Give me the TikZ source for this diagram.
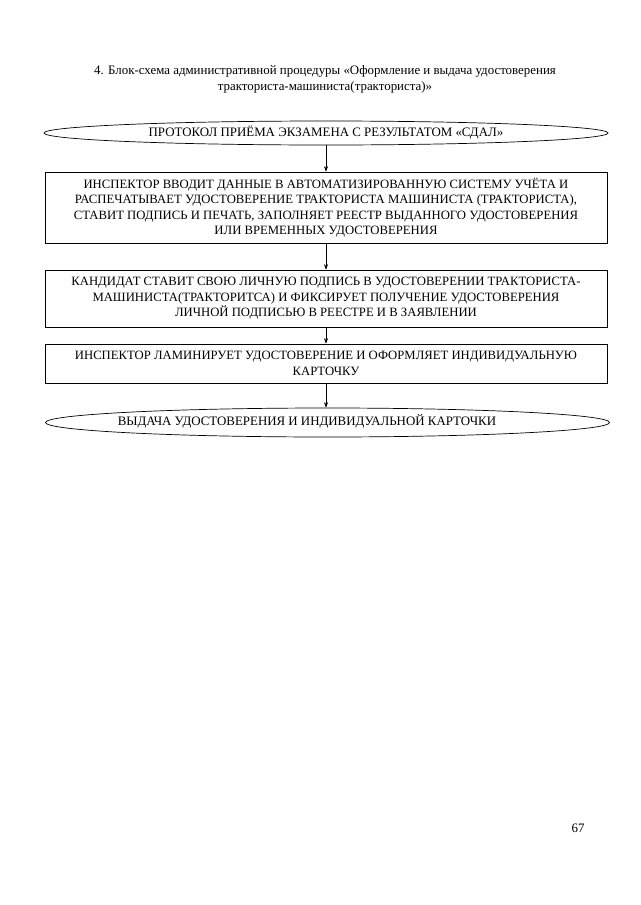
\documentclass[tikz,border=0pt]{standalone}
\usepackage{fontspec}
\setmainfont{Liberation Serif}
\usetikzlibrary{shapes.geometric,arrows.meta}
\newcommand\fsz{\fontsize{12.9}{15.5}\selectfont}
\newcommand\bsz{\fontsize{12.7}{15.5}\selectfont}
\begin{document}
\begin{tikzpicture}[x=1pt,y=1pt,
  box/.style={draw,line width=0.7pt,inner sep=0pt,minimum width=562pt,align=center,font=\bsz},
  oval/.style={draw,ellipse,line width=0.7pt,inner sep=0pt,minimum width=564pt,font=\fsz},
  arr/.style={-{Stealth[length=5.5pt,width=4pt]},line width=0.6pt}]
\fill[white] (0,0) rectangle (640,-905);
\useasboundingbox (0,0) rectangle (640,-905);
\node[font=\fsz,align=center] (title) at (325,-79.5) {4. Блок-схема административной процедуры «Оформление и выдача удостоверения\\тракториста-машиниста(тракториста)»};
\node[oval,minimum height=24pt] (e1) at (326,-133) {ПРОТОКОЛ ПРИЁМА ЭКЗАМЕНА С РЕЗУЛЬТАТОМ «СДАЛ»};
\node[box,minimum height=71pt] (r1) at (326,-207.5) {ИНСПЕКТОР ВВОДИТ ДАННЫЕ В АВТОМАТИЗИРОВАННУЮ СИСТЕМУ УЧЁТА И\\РАСПЕЧАТЫВАЕТ УДОСТОВЕРЕНИЕ ТРАКТОРИСТА МАШИНИСТА (ТРАКТОРИСТА),\\СТАВИТ ПОДПИСЬ И ПЕЧАТЬ, ЗАПОЛНЯЕТ РЕЕСТР ВЫДАННОГО УДОСТОВЕРЕНИЯ\\ИЛИ ВРЕМЕННЫХ УДОСТОВЕРЕНИЯ};
\node[box,minimum height=57pt] (r2) at (326,-298.5) {КАНДИДАТ СТАВИТ СВОЮ ЛИЧНУЮ ПОДПИСЬ В УДОСТОВЕРЕНИИ ТРАКТОРИСТА-\\МАШИНИСТА(ТРАКТОРИТСА) И ФИКСИРУЕТ ПОЛУЧЕНИЕ УДОСТОВЕРЕНИЯ\\ЛИЧНОЙ ПОДПИСЬЮ В РЕЕСТРЕ И В ЗАЯВЛЕНИИ};
\node[box,minimum height=39pt] (r3) at (326,-363.5) {ИНСПЕКТОР ЛАМИНИРУЕТ УДОСТОВЕРЕНИЕ И ОФОРМЛЯЕТ ИНДИВИДУАЛЬНУЮ\\КАРТОЧКУ};
\node[oval,minimum height=29pt] (e2) at (327.5,-422.5) {};
\node[font=\fsz] (e2t) at (307,-421.5) {ВЫДАЧА УДОСТОВЕРЕНИЯ И ИНДИВИДУАЛЬНОЙ КАРТОЧКИ};
\node[font=\fsz] (pg) at (578,-828) {67};
\draw[arr] (e1.south) -- (r1.north);
\draw[arr] (r1.south) -- (r2.north);
\draw[arr] (r2.south) -- (r3.north);
\draw[arr] (r3.south) -- (r3.south |- e2.north);
\end{tikzpicture}
\end{document}
